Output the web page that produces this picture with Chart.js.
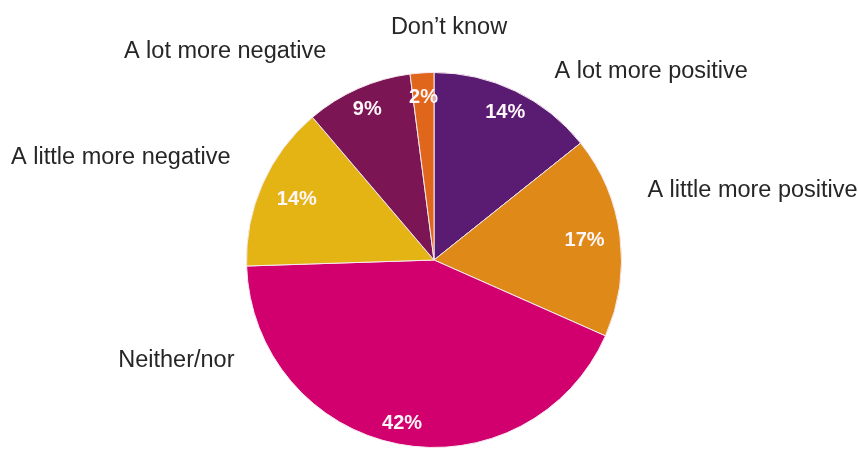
<!DOCTYPE html>
<html>
    <head>
        <title>Pie</title>
        <script src="https://cdn.jsdelivr.net/npm/chart.js@4"></script>
        <style>
            body
            {
                margin:0;
                background:#ffffff;
            }
            #chart-container
            {
                width:858px;
                height:450px;
            }
        </style>
    </head>
    <body>
        <div id="chart-container">
            <canvas id="myChart"></canvas>
        </div>
        <script>
        // data
        let kategorie = ['A lot more positive', 'A little more positive', 'Neither/nor', 'A little more negative', 'A lot more negative', "Don\u2019t know"];
        let wartosci = [14, 17, 42, 14, 9, 2];
        let etykiety = ['14%', '17%', '42%', '14%', '9%', '2%'];
        let kolory = ['#5a1b72', '#df8a18', '#d2006e', '#e3b414', '#7b1554', '#e0661b'];

        // layout of the text (fractions of radius, relative to pie centre)
        let promienEtykiet = [0.875, 0.81, 0.89, 0.80, 0.88, 0.87];
        let opisyPoz = [
            {dx: 0.643, dy: -0.973, align: 'left'},
            {dx: 1.138, dy: -0.335, align: 'left'},
            {dx: -1.064, dy: 0.569, align: 'right'},
            {dx: -1.085, dy: -0.511, align: 'right'},
            {dx: -0.574, dy: -1.080, align: 'right'},
            {dx: 0.080, dy: -1.207, align: 'center'}
        ];

        const napisy = {
            id: 'napisy',
            afterDatasetsDraw(chart)
            {
                var ctx = chart.ctx;
                var meta = chart.getDatasetMeta(0);
                ctx.save();
                meta.data.forEach(function(arc, i)
                {
                    var p = arc.getProps(['x', 'y', 'startAngle', 'endAngle', 'outerRadius'], true);
                    var mid = (p.startAngle + p.endAngle) / 2;
                    var r = p.outerRadius;
                    // percentage inside slice
                    ctx.font = 'bold 20px "Liberation Sans", Arial, sans-serif';
                    ctx.fillStyle = '#fff6f9';
                    ctx.textAlign = 'center';
                    ctx.textBaseline = 'middle';
                    ctx.fillText(etykiety[i], p.x + Math.cos(mid) * r * promienEtykiet[i], p.y + Math.sin(mid) * r * promienEtykiet[i]);
                    // category name outside
                    ctx.font = '23.5px "Liberation Sans", Arial, sans-serif';
                    ctx.fillStyle = '#262626';
                    ctx.textAlign = opisyPoz[i].align;
                    ctx.textBaseline = 'alphabetic';
                    ctx.fillText(kategorie[i], p.x + opisyPoz[i].dx * r, p.y + opisyPoz[i].dy * r);
                });
                ctx.restore();
            }
        };

        var ctx = document.getElementById('myChart').getContext('2d');
        var myChart = new Chart(ctx, {
            type: 'pie',
            data: {
                labels: kategorie,
                datasets: [{
                    data: wartosci,
                    backgroundColor: kolory,
                    borderColor: '#f6e9ef',
                    borderWidth: 1
                }]
            },
            options: {
                responsive: true,
                maintainAspectRatio: false,
                animation: false,
                layout: {
                    padding: {top: 72, bottom: 2, left: 10, right: 0}
                },
                plugins: {
                    legend: {display: false},
                    tooltip: {enabled: false}
                }
            },
            plugins: [napisy]
        });
        </script>
    </body>
</html>
